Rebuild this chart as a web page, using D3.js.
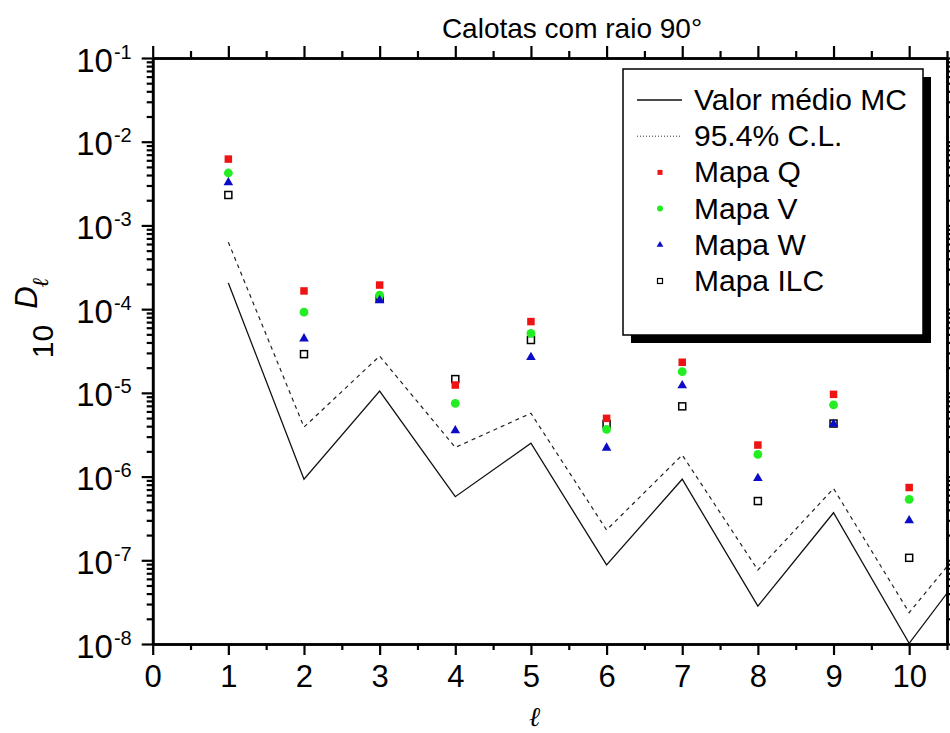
<!DOCTYPE html>
<html>
<head>
<meta charset="utf-8">
<script src="https://cdn.jsdelivr.net/npm/d3@7"></script>
<style>
  html, body { margin: 0; padding: 0; background: #fff; }
  svg { display: block; font-family: Arial, "Liberation Sans", sans-serif; }
</style>
</head>
<body>
<svg id="chart" width="950" height="733"></svg>
<script>
// Multipole index for the simulated curves (the last point lies past the right edge and is clipped)
const lineElls = [1, 2, 3, 4, 5, 6, 7, 8, 9, 10, 11];
const meanMC   = [2.05e-4, 9.3e-7, 1.05e-5, 5.75e-7, 2.5e-6, 8.8e-8, 9.3e-7, 2.84e-8, 3.7e-7, 1.02e-8, 1.6e-7];
const cl954    = [6.3e-4, 3.9e-6, 2.75e-5, 2.23e-6, 5.7e-6, 2.3e-7, 1.81e-6, 7.65e-8, 7.2e-7, 2.37e-8, 3.0e-7];

// Multipole index for the maps
const mapElls = [1, 2, 3, 4, 5, 6, 7, 8, 9, 10];
const mapaQ   = [6.2e-3, 1.65e-4, 1.94e-4, 1.24e-5, 7.1e-5, 4.96e-6, 2.32e-5, 2.38e-6, 9.6e-6, 7.4e-7];
const mapaV   = [4.23e-3, 9.2e-5, 1.47e-4, 7.5e-6, 5.14e-5, 3.66e-6, 1.79e-5, 1.84e-6, 7.2e-6, 5.35e-7];
const mapaW   = [3.3e-3, 4.5e-5, 1.29e-4, 3.6e-6, 2.7e-5, 2.23e-6, 1.24e-5, 9.7e-7, 4.3e-6, 3.03e-7];
const mapaILC = [2.31e-3, 2.9e-5, 1.33e-4, 1.46e-5, 4.28e-5, 4.25e-6, 6.9e-6, 5.1e-7, 4.3e-6, 1.07e-7];

// Axis ticks
const xMajor = [0, 1, 2, 3, 4, 5, 6, 7, 8, 9, 10];
const xMinor = [0.5, 1.5, 2.5, 3.5, 4.5, 5.5, 6.5, 7.5, 8.5, 9.5, 10.5];
const yExponents = [-1, -2, -3, -4, -5, -6, -7, -8];

const titleText = "Calotas com raio 90°";
const legendLabels = ["Valor médio MC", "95.4% C.L.", "Mapa Q", "Mapa V", "Mapa W", "Mapa ILC"];

const colors = { Q: "#ee1414", V: "#22ee22", W: "#0c0cc8", ILC: "#000" };

const svg = d3.select("#chart");
const plotL = 152.7, plotR = 947, plotT = 58, plotB = 644;

const x = d3.scaleLinear().domain([0, 10.5]).range([plotL, plotR]);
const y = d3.scaleLog().domain([1e-8, 1e-1]).range([plotB, plotT]);

const yMajor = yExponents.map(e => Math.pow(10, e));
const yMinor = [];
for (let e = -8; e < -1; e++) for (let k = 2; k <= 9; k++) yMinor.push(k * Math.pow(10, e));

svg.append("defs").append("clipPath").attr("id", "plotClip")
  .append("rect").attr("x", plotL).attr("y", plotT).attr("width", plotR - plotL).attr("height", plotB - plotT);

// Curves
const line = d3.line().x((d, i) => x(lineElls[i])).y(d => y(d));
const curves = svg.append("g").attr("clip-path", "url(#plotClip)");
curves.append("path").datum(cl954).attr("d", line)
  .attr("fill", "none").attr("stroke", "#222").attr("stroke-width", 1.2).attr("stroke-dasharray", "4,4");
curves.append("path").datum(meanMC).attr("d", line)
  .attr("fill", "none").attr("stroke", "#111").attr("stroke-width", 1.3);

// Markers
const pts = svg.append("g");
function squares(vals, fill, stroke, size) {
  pts.selectAll(null).data(vals).enter().append("rect")
    .attr("x", (d, i) => x(mapElls[i]) - size / 2).attr("y", d => y(d) - size / 2)
    .attr("width", size).attr("height", size)
    .attr("fill", fill).attr("stroke", stroke).attr("stroke-width", stroke === "none" ? 0 : 1.5);
}
squares(mapaILC, "#fff", "#000", 7);
squares(mapaQ, colors.Q, "none", 7.5);
pts.selectAll(null).data(mapaV).enter().append("circle")
  .attr("cx", (d, i) => x(mapElls[i])).attr("cy", d => y(d)).attr("r", 4.4).attr("fill", colors.V);
const tri = d3.symbol().type(d3.symbolTriangle).size(40);
pts.selectAll(null).data(mapaW).enter().append("path")
  .attr("d", tri).attr("transform", (d, i) => `translate(${x(mapElls[i])},${y(d) + 0.5})`)
  .attr("fill", colors.W);

// Axes
function styleAxis(g) {
  g.select(".domain").attr("stroke", "#000").attr("stroke-width", 2.6);
  g.selectAll(".tick line").attr("stroke", "#000").attr("stroke-width", 2.2);
}
function addAxis(gen, tx, ty) {
  const g = svg.append("g").attr("transform", `translate(${tx},${ty})`).call(gen);
  styleAxis(g);
  return g;
}
// bottom
const xb = addAxis(d3.axisBottom(x).tickValues(xMajor).tickSize(11).tickSizeOuter(0).tickPadding(10), 0, plotB);
xb.selectAll(".tick text").attr("font-size", 31).attr("fill", "#000").attr("font-family", "Arial, Liberation Sans, sans-serif");
addAxis(d3.axisBottom(x).tickValues(xMinor).tickSize(6).tickSizeOuter(0).tickFormat(""), 0, plotB);
// top
addAxis(d3.axisTop(x).tickValues(xMajor).tickSize(12).tickSizeOuter(0).tickFormat(""), 0, plotT);
addAxis(d3.axisTop(x).tickValues(xMinor).tickSize(7).tickSizeOuter(0).tickFormat(""), 0, plotT);
// left
const yl = addAxis(d3.axisLeft(y).tickValues(yMajor).tickSize(11).tickSizeOuter(0).tickPadding(10).tickFormat(() => ""), plotL, 0);
addAxis(d3.axisLeft(y).tickValues(yMinor).tickSize(6).tickSizeOuter(0).tickFormat(""), plotL, 0);
yl.selectAll(".tick text").each(function (d) {
  const t = d3.select(this).attr("dy", null).attr("y", 13).attr("x", -21)
    .attr("text-anchor", "end").attr("fill", "#000").attr("font-size", 33)
    .attr("font-family", "Arial, Liberation Sans, sans-serif");
  t.append("tspan").text("10");
  t.append("tspan").attr("dx", 1).attr("dy", -13).attr("font-size", 20).text(String(Math.round(Math.log10(d))));
});
// right
addAxis(d3.axisRight(y).tickValues(yMajor).tickSize(11).tickSizeOuter(0).tickFormat(""), plotR, 0);
addAxis(d3.axisRight(y).tickValues(yMinor).tickSize(6).tickSizeOuter(0).tickFormat(""), plotR, 0);

// Title
svg.append("text").attr("x", 572).attr("y", 38).attr("text-anchor", "middle")
  .attr("font-size", 28).attr("fill", "#000").text(titleText);

// Axis titles
svg.append("text").attr("x", 535).attr("y", 726).attr("text-anchor", "middle")
  .attr("font-family", "DejaVu Serif, serif").attr("font-style", "italic").attr("font-weight", "bold")
  .attr("font-size", 27).attr("fill", "#000").text("ℓ");

const yt = svg.append("text").attr("transform", "translate(53,318) rotate(-90)")
  .attr("text-anchor", "middle").attr("fill", "#000").attr("font-size", 30);
yt.append("tspan").text("10");
yt.append("tspan").attr("dx", 16).attr("dy", -16).attr("font-style", "italic").attr("font-size", 31).text("D");
yt.append("tspan").attr("dx", -1).attr("dy", 11).attr("font-family", "DejaVu Serif, serif")
  .attr("font-style", "italic").attr("font-size", 23).text("ℓ");

// Legend
const lg = svg.append("g");
const lx = 623, ly = 69, lw = 300, lh = 266;
lg.append("rect").attr("x", lx + 8).attr("y", ly + 8).attr("width", lw).attr("height", lh).attr("fill", "#000");
lg.append("rect").attr("x", lx).attr("y", ly).attr("width", lw).attr("height", lh)
  .attr("fill", "#fff").attr("stroke", "#000").attr("stroke-width", 1.5);
const rowY = i => 110 + 36.2 * i;
legendLabels.forEach((lab, i) => {
  lg.append("text").attr("x", 694).attr("y", rowY(i)).attr("font-size", 30).attr("fill", "#000").text(lab);
});
const mid = i => rowY(i) - 10;
lg.append("line").attr("x1", 637).attr("x2", 682).attr("y1", mid(0)).attr("y2", mid(0))
  .attr("stroke", "#111").attr("stroke-width", 1.3);
lg.append("line").attr("x1", 637).attr("x2", 682).attr("y1", mid(1)).attr("y2", mid(1))
  .attr("stroke", "#333").attr("stroke-width", 1).attr("stroke-dasharray", "1,2");
lg.append("rect").attr("x", 660 - 2.5).attr("y", mid(2) - 2.5).attr("width", 5).attr("height", 5).attr("fill", colors.Q);
lg.append("circle").attr("cx", 660).attr("cy", mid(3)).attr("r", 3).attr("fill", colors.V);
lg.append("path").attr("d", d3.symbol().type(d3.symbolTriangle).size(20))
  .attr("transform", `translate(660,${mid(4)})`).attr("fill", colors.W);
lg.append("rect").attr("x", 660 - 2.5).attr("y", mid(5) - 2.5).attr("width", 5).attr("height", 5)
  .attr("fill", "#fff").attr("stroke", "#000").attr("stroke-width", 1.2);
</script>
</body>
</html>
